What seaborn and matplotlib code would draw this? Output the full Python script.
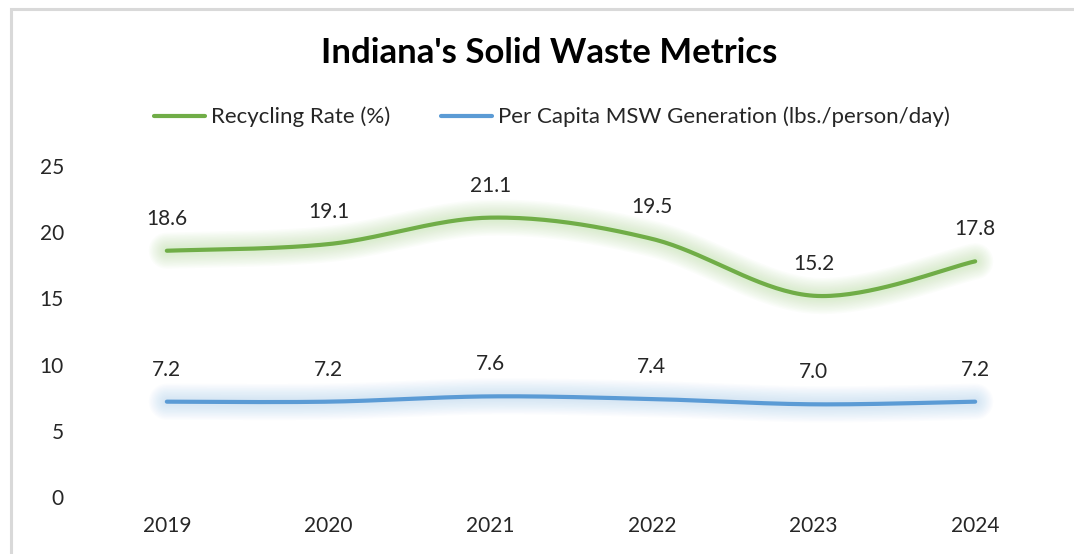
import numpy as np
import pandas as pd
import matplotlib.pyplot as plt
from matplotlib.patches import Rectangle
import seaborn as sns

# --- data ---
years = ["2019", "2020", "2021", "2022", "2023", "2024"]
recycling_rate = [18.6, 19.1, 21.1, 19.5, 15.2, 17.8]
per_capita_msw = [7.2, 7.2, 7.6, 7.4, 7.0, 7.2]

series_names = ["Recycling Rate (%)", "Per Capita MSW Generation (lbs./person/day)"]
series_values = [recycling_rate, per_capita_msw]
colors = ["#70AD47", "#5B9BD5"]
glow_colors = ["#A9D98A", "#9CC8F0"]


def smooth_curve(y, n=40):
    """Excel-style smoothed line: cubic Bezier through each point."""
    x = np.arange(len(y), dtype=float)
    pts = np.column_stack([x, np.asarray(y, dtype=float)])
    out = []
    for i in range(len(pts) - 1):
        p0 = pts[max(i - 1, 0)]
        p1 = pts[i]
        p2 = pts[i + 1]
        p3 = pts[min(i + 2, len(pts) - 1)]
        c1 = p1 + (p2 - p0) / 6
        c2 = p2 - (p3 - p1) / 6
        t = np.linspace(0, 1, n)[:, None]
        seg = ((1 - t) ** 3) * p1 + 3 * ((1 - t) ** 2) * t * c1 \
            + 3 * (1 - t) * t ** 2 * c2 + t ** 3 * p2
        out.append(seg if i == 0 else seg[1:])
    return np.vstack(out)


frames = []
for name, vals in zip(series_names, series_values):
    s = smooth_curve(vals)
    frames.append(pd.DataFrame({"x": s[:, 0], "y": s[:, 1], "series": name}))
df = pd.concat(frames, ignore_index=True)

sns.set_theme(style="white")
plt.rcParams["font.family"] = ["Lato", "DejaVu Sans"]
text_color = "#262626"

fig = plt.figure(figsize=(10.74, 5.54), dpi=100)
ax = fig.add_axes([86 / 1074, 1 - 497 / 554, 970 / 1074, 331 / 554])

# soft glow under each line
for (name, sub), c in zip(df.groupby("series", sort=False), glow_colors):
    for lw in np.linspace(26, 6, 11):
        ax.plot(sub["x"], sub["y"], color=c, lw=lw, alpha=0.04,
                solid_capstyle="round", zorder=1)

sns.lineplot(data=df, x="x", y="y", hue="series", palette=colors,
             sort=False, estimator=None, linewidth=3.0, ax=ax, zorder=3)
for line in ax.get_lines()[-2:]:
    line.set_solid_capstyle("round")

# data labels
for vals in series_values:
    for i, v in enumerate(vals):
        ax.annotate(f"{v:.1f}", (i, v), xytext=(0, 23), textcoords="offset points",
                    ha="center", va="center", fontsize=15, color=text_color)

ax.set_xlim(-0.5, len(years) - 0.5)
ax.set_ylim(0, 25)
ax.set_xticks(range(len(years)))
ax.set_xticklabels(years)
ax.set_yticks(range(0, 26, 5))
ax.tick_params(axis="both", length=0, labelsize=15, colors=text_color)
ax.tick_params(axis="y", pad=16)
ax.tick_params(axis="x", pad=14)
ax.set_xlabel("")
ax.set_ylabel("")
for sp in ax.spines.values():
    sp.set_visible(False)

handles, labels = ax.get_legend_handles_labels()
ax.get_legend().remove()
leg = fig.legend(handles, labels, loc="center", bbox_to_anchor=(552 / 1074, 1 - 117 / 554),
                 ncol=2, frameon=False, fontsize=16.0, handlelength=2.3,
                 handletextpad=0.27, columnspacing=2.3)
for t in leg.get_texts():
    t.set_color(text_color)

fig.text(549 / 1074, 1 - 53 / 554, "Indiana's Solid Waste Metrics",
         ha="center", va="center", fontsize=25, fontweight="bold", color="black")

# chart area border (right/bottom run off the image)
fig.patches.append(Rectangle((11 / 1074, -0.1), 1.2, 1 - 9 / 554 + 0.1,
                             transform=fig.transFigure, fill=False,
                             edgecolor="#D9D9D9", linewidth=2.2))

fig.savefig("out.png", dpi=100)
